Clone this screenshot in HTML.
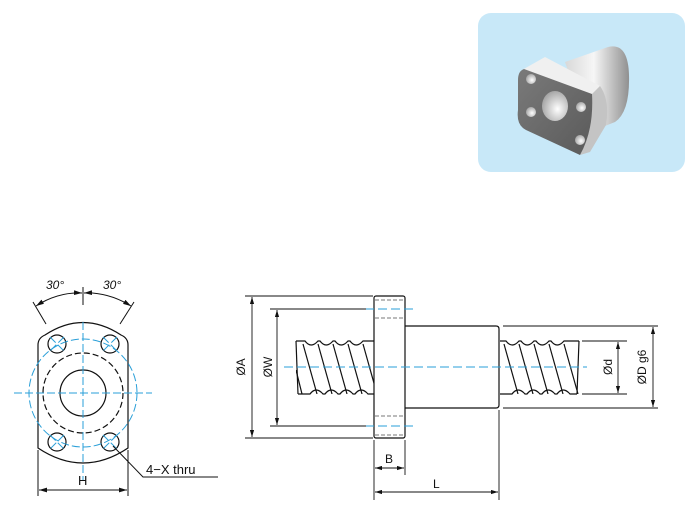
<!DOCTYPE html>
<html><head><meta charset="utf-8"><style>
html,body{margin:0;padding:0;background:#fff;}
svg{display:block;}
text{font-family:"Liberation Sans",sans-serif;fill:#111;}
</style></head><body>
<svg width="700" height="510" viewBox="0 0 700 510" xmlns="http://www.w3.org/2000/svg">
<defs>
<linearGradient id="cyl" x1="0" y1="0" x2="1" y2="0">
<stop offset="0" stop-color="#d8d8d8"/><stop offset="0.45" stop-color="#f6f6f6"/><stop offset="1" stop-color="#909090"/></linearGradient>
<linearGradient id="face" x1="0" y1="0" x2="1" y2="1">
<stop offset="0" stop-color="#7a7a7a"/><stop offset="1" stop-color="#5a5a5a"/></linearGradient>
<radialGradient id="hole" cx="0.6" cy="0.6" r="0.7"><stop offset="0" stop-color="#fff"/><stop offset="1" stop-color="#9a9a9a"/></radialGradient>
<marker id="ar" viewBox="0 0 10 6" refX="10" refY="3" markerWidth="8" markerHeight="5" orient="auto-start-reverse"><path d="M0,0 L10,3 L0,6 z" fill="#111"/></marker>
<clipPath id="c1"><rect x="296" y="341" width="78" height="53"/></clipPath>
<clipPath id="c2"><rect x="500" y="341" width="79" height="53"/></clipPath>
</defs>

<!-- 3D picture -->
<rect x="478" y="13" width="207" height="159" rx="13" fill="#c8e8f8"/>
<path d="M565,62 L608,47 Q628,42 629,75 Q630,112 615,122 L590,132 Z" fill="url(#cyl)"/>
<path d="M522,70 L545,57 L600,86 L592,94 Z" fill="#f0f0f0"/>
<path d="M592,94 L600,86 Q610,100 606,125 L590,152 L580,155 Q592,130 592,94 Z" fill="#c4c4c4"/>
<path d="M524,69 L592,94 Q594,130 580,155 L526,130 Q516,125 518,110 L518,80 Q518,71 524,69 Z" fill="url(#face)"/>
<ellipse cx="555" cy="106" rx="13" ry="15" fill="url(#hole)"/>
<ellipse cx="531" cy="79" rx="5" ry="5" fill="url(#hole)"/>
<ellipse cx="531" cy="112" rx="5" ry="5" fill="url(#hole)"/>
<ellipse cx="581" cy="107" rx="5" ry="5" fill="url(#hole)"/>
<ellipse cx="580" cy="140" rx="5" ry="5" fill="url(#hole)"/>

<!-- Left view -->
<g fill="none" stroke="#111" stroke-width="1.2">
<path d="M38,448 L38,345 Q38,338 45,335 Q83,310 121,335 Q128,338 128,345 L128,448 Q83,478 38,448 Z"/>
<circle cx="83" cy="393" r="23"/>
<circle cx="83" cy="393" r="40" stroke-dasharray="6,3"/>
<circle cx="57" cy="344" r="9"/><circle cx="110" cy="344" r="9"/>
<circle cx="57" cy="442" r="9"/><circle cx="110" cy="442" r="9"/>
</g>
<g fill="none" stroke="#2a9fd8" stroke-width="1" stroke-dasharray="8,3">
<circle cx="83" cy="393" r="54"/>
<line x1="14" y1="393" x2="152" y2="393"/>
<line x1="83" y1="322" x2="83" y2="480"/>
<line x1="50" y1="337" x2="64" y2="351"/><line x1="64" y1="337" x2="50" y2="351"/>
<line x1="103" y1="337" x2="117" y2="351"/><line x1="117" y1="337" x2="103" y2="351"/>
<line x1="50" y1="435" x2="64" y2="449"/><line x1="64" y1="435" x2="50" y2="449"/>
<line x1="103" y1="435" x2="117" y2="449"/><line x1="117" y1="435" x2="103" y2="449"/>
</g>
<g fill="none" stroke="#111" stroke-width="1">
<line x1="83" y1="287" x2="83" y2="305"/>
<line x1="33" y1="302" x2="46" y2="324"/><line x1="134" y1="302" x2="120" y2="324"/>
<path d="M36,306 Q58,292 82,293" marker-start="url(#ar)" marker-end="url(#ar)"/>
<path d="M84,293 Q108,292 131,306" marker-start="url(#ar)" marker-end="url(#ar)"/>
<line x1="38" y1="450" x2="38" y2="496"/><line x1="128" y1="450" x2="128" y2="496"/>
<line x1="39" y1="490" x2="127" y2="490" marker-start="url(#ar)" marker-end="url(#ar)"/>
<polyline points="113,446 143,477 218,477"/>
</g>
<text x="46" y="289" font-size="12" font-style="italic">30°</text>
<text x="103" y="289" font-size="12" font-style="italic">30°</text>
<text x="78" y="485" font-size="13">H</text>
<text x="146" y="474" font-size="13">4−X thru</text>

<!-- Right view -->
<g fill="none" stroke="#111" stroke-width="1.2">
<rect x="374" y="296" width="31" height="142" rx="2"/>
<path d="M405,326 L496,326 Q499,326 499,329 L499,405 Q499,408 496,408 L405,408"/>
<path d="M296,341 L305,341 Q311,349 318,341 L320,341 Q326,349 333,341 L335,341 Q341,349 348,341 L350,341 Q356,349 363,341 L374,341"/>
<path d="M298,394 L310,394 Q316,386 323,394 L325,394 Q331,386 338,394 L340,394 Q346,386 353,394 L355,394 Q361,386 368,394 L374,394"/>
<line x1="296" y1="341" x2="298" y2="394"/>
<g clip-path="url(#c1)">
<line x1="303" y1="344" x2="317" y2="394"/><line x1="318" y1="344" x2="332" y2="394"/>
<line x1="333" y1="344" x2="347" y2="394"/><line x1="348" y1="344" x2="362" y2="394"/>
<line x1="363" y1="344" x2="377" y2="394"/><line x1="296" y1="370" x2="302" y2="394"/>
</g>
<path d="M500,341 L506,341 Q512,349 519,341 L521,341 Q527,349 534,341 L536,341 Q542,349 549,341 L551,341 Q557,349 564,341 L579,341"/>
<path d="M500,394 L512,394 Q518,386 525,394 L527,394 Q533,386 540,394 L542,394 Q548,386 555,394 L557,394 Q563,386 570,394 L577,394"/>
<line x1="579" y1="341" x2="577" y2="394"/>
<g clip-path="url(#c2)">
<line x1="504" y1="344" x2="518" y2="394"/><line x1="519" y1="344" x2="533" y2="394"/>
<line x1="534" y1="344" x2="548" y2="394"/><line x1="549" y1="344" x2="563" y2="394"/>
<line x1="564" y1="344" x2="578" y2="394"/>
</g>
</g>
<g stroke="#777" stroke-width="1" stroke-dasharray="4,2">
<line x1="375" y1="300" x2="404" y2="300"/><line x1="375" y1="318" x2="404" y2="318"/>
<line x1="375" y1="416" x2="404" y2="416"/><line x1="375" y1="435" x2="404" y2="435"/>
</g>
<g stroke="#2a9fd8" stroke-width="1" stroke-dasharray="9,4">
<line x1="284" y1="367" x2="587" y2="367"/>
<line x1="365" y1="309" x2="413" y2="309"/><line x1="365" y1="426" x2="413" y2="426"/>
</g>
<g fill="none" stroke="#111" stroke-width="0.9">
<line x1="245" y1="296" x2="373" y2="296"/><line x1="245" y1="438" x2="373" y2="438"/>
<line x1="252" y1="297" x2="252" y2="437" marker-start="url(#ar)" marker-end="url(#ar)"/>
<line x1="270" y1="309" x2="366" y2="309"/><line x1="270" y1="426" x2="366" y2="426"/>
<line x1="277" y1="310" x2="277" y2="425" marker-start="url(#ar)" marker-end="url(#ar)"/>
<line x1="582" y1="341" x2="627" y2="341"/><line x1="582" y1="394" x2="627" y2="394"/>
<line x1="618" y1="342" x2="618" y2="393" marker-start="url(#ar)" marker-end="url(#ar)"/>
<line x1="503" y1="326" x2="658" y2="326"/><line x1="503" y1="408" x2="658" y2="408"/>
<line x1="653" y1="327" x2="653" y2="407" marker-start="url(#ar)" marker-end="url(#ar)"/>
<line x1="374" y1="440" x2="374" y2="500"/><line x1="405" y1="440" x2="405" y2="475"/>
<line x1="375" y1="468" x2="404" y2="468" marker-start="url(#ar)" marker-end="url(#ar)"/>
<line x1="499" y1="410" x2="499" y2="500"/>
<line x1="375" y1="492" x2="498" y2="492" marker-start="url(#ar)" marker-end="url(#ar)"/>
</g>
<text font-size="12" transform="translate(245,367) rotate(-90)" text-anchor="middle">ØA</text>
<text font-size="12" transform="translate(272,367) rotate(-90)" text-anchor="middle">ØW</text>
<text font-size="12" transform="translate(612,367) rotate(-90)" text-anchor="middle">Ød</text>
<text font-size="12" transform="translate(646,367) rotate(-90)" text-anchor="middle">ØD g6</text>
<text x="385" y="463" font-size="12">B</text>
<text x="433" y="488" font-size="12">L</text>
</svg>
</body></html>
